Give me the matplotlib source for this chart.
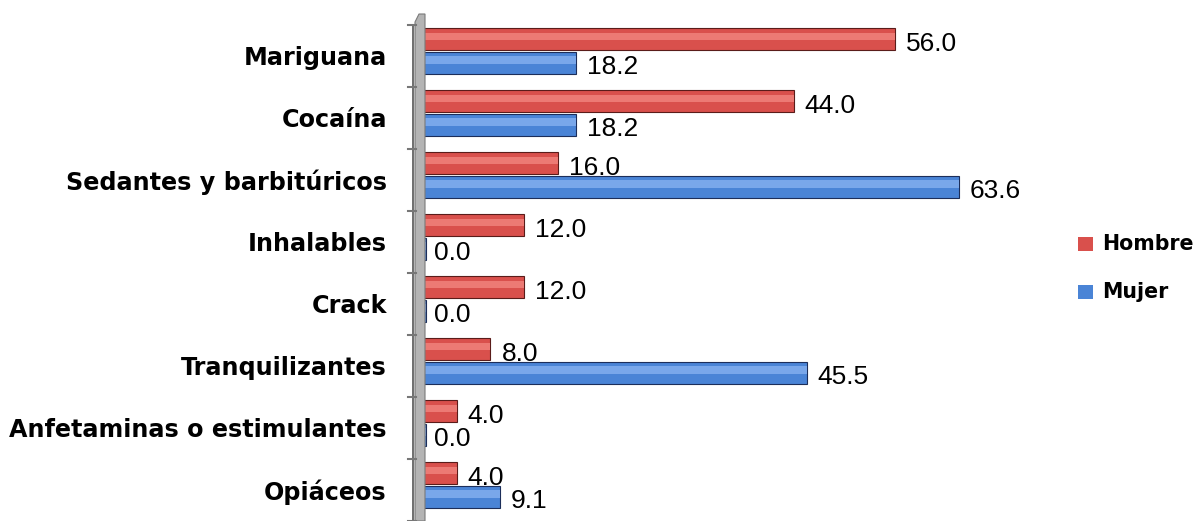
import matplotlib.pyplot as plt
import matplotlib.patches as mpatches
import numpy as np

categorias = ["Mariguana", "Cocaína", "Sedantes y barbitúricos", "Inhalables",
              "Crack", "Tranquilizantes", "Anfetaminas o estimulantes", "Opiáceos"]
hombre = [56.0, 44.0, 16.0, 12.0, 12.0, 8.0, 4.0, 4.0]
mujer = [18.2, 18.2, 63.6, 0.0, 0.0, 45.5, 0.0, 9.1]

rojo = "#d9504c"
rojo_claro = "#ec7a74"
azul = "#4a84d6"
azul_claro = "#79a7ea"

fig = plt.figure(figsize=(12.04, 5.21), dpi=100)
ax = fig.add_axes([423 / 1204, 0.0, 590 / 1204, 1 - 25 / 521])

y = np.arange(len(categorias))
h = 0.355
off_h = -0.27
off_m = 0.11

ax.barh(y + off_h, hombre, height=h, color=rojo, edgecolor="#5a1c1a", linewidth=0.8)
ax.barh(y + off_h - h * 0.12, hombre, height=h * 0.35, color=rojo_claro, linewidth=0)
mujer_vis = [v if v > 0 else 0.35 for v in mujer]
ax.barh(y + off_m, mujer_vis, height=h, color=azul, edgecolor="#1c2e5a", linewidth=0.8)
ax.barh(y + off_m - h * 0.12, mujer_vis, height=h * 0.35, color=azul_claro, linewidth=0)

for i in range(len(categorias)):
    ax.text(hombre[i] + 1.3, y[i] + off_h + 0.07, f"{hombre[i]:.1f}", fontsize=19,
            family="Liberation Sans", va="center", ha="left", color="black")
    ax.text(mujer[i] + 1.3, y[i] + off_m + 0.07, f"{mujer[i]:.1f}", fontsize=19,
            family="Liberation Sans", va="center", ha="left", color="black")
    ax.text(-4.3, y[i] + 0.03, categorias[i], fontsize=17.2, fontweight="bold",
            family="DejaVu Sans", va="center", ha="right", color="black")

ax.set_xlim(0, 70)
ax.set_ylim(len(categorias) - 0.5, -0.5)
ax.axis("off")

# pared gris 3D a la izquierda
pared = mpatches.Polygon([(415 / 1204, 0.0), (415 / 1204, 1 - 22 / 521), (419 / 1204, 1 - 14 / 521),
                          (425 / 1204, 1 - 14 / 521), (425 / 1204, 0.0)],
                         closed=True, transform=fig.transFigure, facecolor="#b4b4b4",
                         edgecolor="#7a7a7a", linewidth=0.8)
fig.add_artist(pared)
fig.add_artist(plt.Line2D([413 / 1204, 413 / 1204], [0.0, 1 - 25 / 521],
                          transform=fig.transFigure, color="#555555", linewidth=1.2))
for i in range(len(categorias) + 1):
    yy = 1 - 25 / 521 - i * (1 - 25 / 521) / len(categorias)
    fig.add_artist(plt.Line2D([408 / 1204, 416 / 1204], [yy, yy],
                              transform=fig.transFigure, color="#777777", linewidth=1.5))

# leyenda
fig.patches.append(mpatches.Rectangle((1078 / 1204, 1 - 251 / 521), 15 / 1204, 14 / 521,
                                      transform=fig.transFigure, facecolor=rojo, edgecolor="none"))
fig.patches.append(mpatches.Rectangle((1078 / 1204, 1 - 299 / 521), 15 / 1204, 14 / 521,
                                      transform=fig.transFigure, facecolor=azul, edgecolor="none"))
fig.text(1102 / 1204, 1 - 244 / 521, "Hombre", fontsize=14.8, fontweight="bold",
         family="DejaVu Sans", va="center", ha="left")
fig.text(1102 / 1204, 1 - 292 / 521, "Mujer", fontsize=14.8, fontweight="bold",
         family="DejaVu Sans", va="center", ha="left")

fig.savefig("out.png", dpi=100)
